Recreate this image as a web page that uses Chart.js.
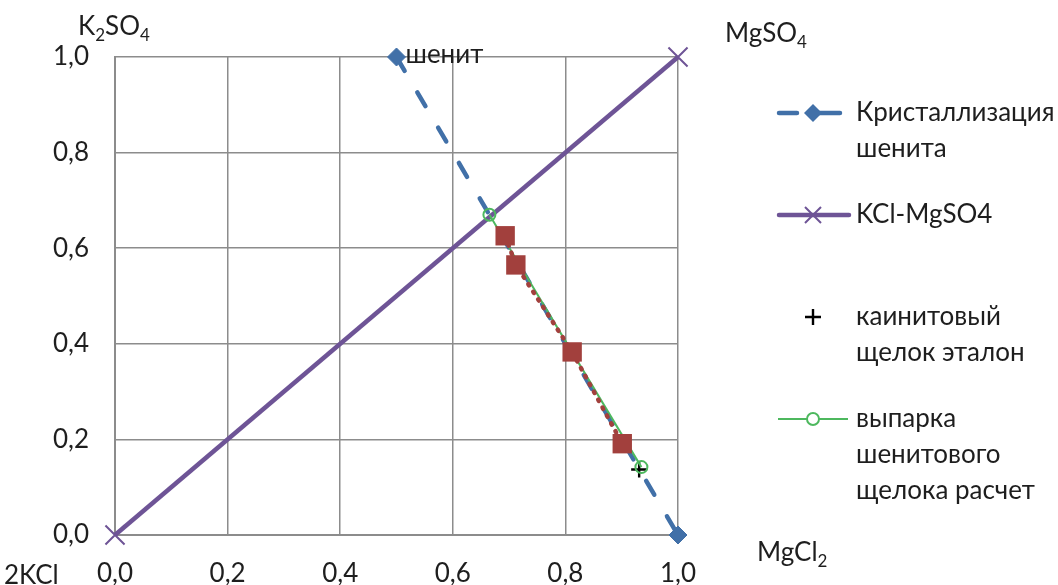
<!DOCTYPE html>
<html><head><meta charset="utf-8">
<style>html,body{margin:0;padding:0;background:#fff;overflow:hidden}</style>
<script src="https://cdn.jsdelivr.net/npm/chart.js@4.4.1/dist/chart.umd.min.js"></script>
</head><body>
<canvas id="c" width="1058" height="585"></canvas>
<script>
// ---------- data ----------
const tickValues = [0, 0.2, 0.4, 0.6, 0.8, 1.0];
const crystX = [0.5, 1.0];
const crystY = [1.0, 0.0];
const crystLabels = ['шенит', ''];
const kclX = [0, 1];
const kclY = [0, 1];
const kainitX = [0.931];
const kainitY = [0.137];
const evapX = [0.665, 0.935];
const evapY = [0.670, 0.142];
const expX = [0.693, 0.712, 0.812, 0.901];
const expY = [0.626, 0.565, 0.383, 0.191];
const legendLines = [
  ['Кристаллизация', 'шенита'],
  ['KCl-MgSO4'],
  ['каинитовый', 'щелок эталон'],
  ['выпарка', 'шенитового', 'щелока расчет']
];
const axisTitles = [
  {parts: [['K', 0], ['2', 1], ['SO', 0], ['4', 1]], x: 78, y: 27},
  {parts: [['MgSO', 0], ['4', 1]], x: 725, y: 34},
  {parts: [['MgCl', 0], ['2', 1]], x: 757, y: 553},
  {parts: [['2KCl', 0]], x: 4, y: 576}
];

const FAMILY = 'Lato, "Open Sans", sans-serif';
const FS = 26;
const SFS = 17;
const TEXT = '#1e1e1e';

const BLUE = '#4170A8';
const PURPLE = '#6E5496';
const GREEN = '#4DB85E';
const RED = '#A2403D';
const GRID = '#8c8c8c';

const pts = (xs, ys) => xs.map((x, i) => ({x, y: ys[i]}));
const fmt = v => v.toFixed(1).replace('.', ',');

const datasets = [
  {label: legendLines[0].join(' '), data: pts(crystX, crystY), showLine: true,
   borderColor: BLUE, backgroundColor: BLUE, borderWidth: 4.5, borderDash: [16, 25],
   borderCapStyle: 'round', pointStyle: 'rectRot', pointRadius: 9, pointBorderWidth: 1,
   pointBackgroundColor: BLUE, pointBorderColor: BLUE, order: 4, clip: false},
  {label: legendLines[1].join(' '), data: pts(kclX, kclY), showLine: true,
   borderColor: PURPLE, backgroundColor: PURPLE, borderWidth: 4.5,
   pointStyle: 'crossRot', pointRadius: 13.5, pointBorderWidth: 2,
   pointBorderColor: PURPLE, order: 3, clip: false},
  {label: legendLines[2].join(' '), data: pts(kainitX, kainitY), showLine: false,
   borderColor: '#000', pointStyle: 'cross', pointRadius: 8, pointBorderWidth: 2.4,
   pointBorderColor: '#000', order: 2, clip: false},
  {label: legendLines[3].join(' '), data: pts(evapX, evapY), showLine: true,
   borderColor: GREEN, borderWidth: 2, pointStyle: 'circle', pointRadius: 6,
   pointBorderWidth: 2, pointBorderColor: GREEN, pointBackgroundColor: 'rgba(255,255,255,0)',
   order: 1, clip: false},
  {label: '', data: pts(expX, expY), showLine: true,
   borderColor: RED, borderWidth: 4.5, borderDash: [1.5, 7.5], borderCapStyle: 'round',
   pointStyle: 'rect', pointRadius: 13.7, pointBorderWidth: 0,
   pointBackgroundColor: RED, pointBorderColor: RED, order: 0, clip: false}
];

function drawParts(ctx, x, y, parts) {
  let cx = x;
  ctx.textAlign = 'left';
  ctx.textBaseline = 'middle';
  ctx.fillStyle = TEXT;
  for (const [t, sub] of parts) {
    ctx.font = (sub ? SFS : FS) + 'px ' + FAMILY;
    ctx.fillText(t, cx, sub ? y + 9 : y);
    cx += ctx.measureText(t).width;
  }
}

const overlay = {
  id: 'overlay',
  afterDraw(chart) {
    const ctx = chart.ctx;
    ctx.save();
    axisTitles.forEach(t => drawParts(ctx, t.x, t.y, t.parts));
    const meta = chart.getDatasetMeta(0);
    ctx.font = FS + 'px ' + FAMILY;
    ctx.fillStyle = TEXT;
    ctx.textAlign = 'left';
    ctx.textBaseline = 'middle';
    meta.data.forEach((el, i) => {
      if (crystLabels[i]) ctx.fillText(crystLabels[i], el.x + 9, el.y - 2);
    });
    const lx0 = 777, lx1 = 849, mx = 813, tx = 856;
    const rows = [113, 215, 317, 419];
    const lh = 36;
    rows.forEach((ry, k) => {
      const ds = chart.data.datasets[k];
      ctx.lineCap = 'round';
      if (k === 0) {
        ctx.strokeStyle = ds.borderColor; ctx.lineWidth = ds.borderWidth;
        ctx.beginPath(); ctx.moveTo(779, ry); ctx.lineTo(797, ry); ctx.moveTo(819, ry); ctx.lineTo(840, ry); ctx.stroke();
        ctx.fillStyle = ds.pointBackgroundColor;
        ctx.beginPath(); ctx.moveTo(mx - 9, ry); ctx.lineTo(mx, ry - 9); ctx.lineTo(mx + 9, ry); ctx.lineTo(mx, ry + 9); ctx.closePath(); ctx.fill();
      } else if (k === 1) {
        ctx.strokeStyle = ds.borderColor; ctx.lineWidth = ds.borderWidth;
        ctx.beginPath(); ctx.moveTo(lx0 + 2, ry); ctx.lineTo(lx1, ry); ctx.stroke();
        ctx.lineWidth = ds.pointBorderWidth; ctx.lineCap = 'butt';
        const h = 8;
        ctx.beginPath(); ctx.moveTo(mx - h, ry - h); ctx.lineTo(mx + h, ry + h); ctx.moveTo(mx - h, ry + h); ctx.lineTo(mx + h, ry - h); ctx.stroke();
      } else if (k === 2) {
        ctx.strokeStyle = ds.pointBorderColor; ctx.lineWidth = ds.pointBorderWidth; ctx.lineCap = 'butt';
        const h = 8;
        ctx.beginPath(); ctx.moveTo(mx - h, ry); ctx.lineTo(mx + h, ry); ctx.moveTo(mx, ry - h); ctx.lineTo(mx, ry + h); ctx.stroke();
      } else {
        ctx.strokeStyle = ds.borderColor; ctx.lineWidth = ds.borderWidth; ctx.lineCap = 'butt';
        ctx.beginPath(); ctx.moveTo(lx0 + 1, ry); ctx.lineTo(lx1 - 1, ry); ctx.stroke();
        ctx.fillStyle = '#fff';
        ctx.lineWidth = ds.pointBorderWidth; ctx.strokeStyle = ds.pointBorderColor;
        ctx.beginPath(); ctx.arc(mx, ry, ds.pointRadius, 0, Math.PI * 2); ctx.fill(); ctx.stroke();
      }
      ctx.font = FS + 'px ' + FAMILY;
      ctx.fillStyle = TEXT;
      ctx.textAlign = 'left';
      ctx.textBaseline = 'middle';
      legendLines[k].forEach((line, j) => ctx.fillText(line, tx, ry + j * lh));
    });
    ctx.restore();
  }
};

const tickFont = {family: FAMILY, size: FS};

new Chart(document.getElementById('c'), {
  type: 'scatter',
  data: {datasets},
  options: {
    responsive: false,
    animation: false,
    events: [],
    layout: {padding: {left: 0, top: 57, right: 380, bottom: 0}},
    plugins: {legend: {display: false}, tooltip: {enabled: false}},
    scales: {
      x: {
        type: 'linear', min: 0, max: 1,
        afterBuildTicks: s => { s.ticks = tickValues.map(v => ({value: v})); },
        afterFit: s => { s.height = 50; },
        grid: {color: GRID, lineWidth: 1.5, drawTicks: false},
        border: {color: GRID, width: 2},
        ticks: {callback: v => fmt(v), font: tickFont, color: TEXT, padding: 23, maxRotation: 0}
      },
      y: {
        type: 'linear', min: 0, max: 1,
        afterBuildTicks: s => { s.ticks = tickValues.map(v => ({value: v})); },
        afterFit: s => { s.width = 115; },
        grid: {color: GRID, lineWidth: 1.5, drawTicks: false},
        border: {color: GRID, width: 2},
        ticks: {callback: v => fmt(v), font: tickFont, color: TEXT, padding: 26}
      }
    }
  },
  plugins: [overlay]
});
</script>
</body></html>
